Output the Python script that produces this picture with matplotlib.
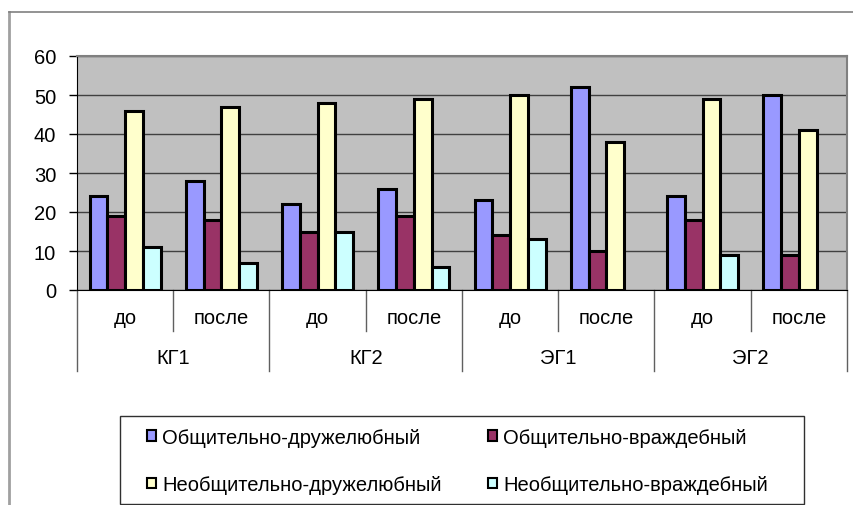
import numpy as np
import matplotlib.pyplot as plt
from matplotlib.lines import Line2D
from matplotlib.patches import Patch, Rectangle
import matplotlib.transforms as mtransforms

plt.rcParams['font.family'] = ['Liberation Sans', 'DejaVu Sans']

groups = ['КГ1', 'КГ2', 'ЭГ1', 'ЭГ2']
stages = ['до', 'после']
series = ['Общительно-дружелюбный', 'Общительно-враждебный',
          'Необщительно-дружелюбный', 'Необщительно-враждебный']
colors = ['#9999FF', '#993366', '#FFFFCC', '#CCFFFF']

# по порядку: КГ1 до, КГ1 после, КГ2 до, КГ2 после, ЭГ1 до, ЭГ1 после, ЭГ2 до, ЭГ2 после
friendly = [24, 28, 22, 26, 23, 52, 24, 50]
hostile = [19, 18, 15, 19, 14, 10, 18, 9]
unsoc_friendly = [46, 47, 48, 49, 50, 38, 49, 41]
unsoc_hostile = [11, 7, 15, 6, 13, np.nan, 9, np.nan]
values = [friendly, hostile, unsoc_friendly, unsoc_hostile]

fs = 14.5
W, H = 854, 506

fig = plt.figure(figsize=(8.54, 5.06), dpi=100)
ax = fig.add_axes([77/W, 1 - 291/H, 770/W, 234/H])
ax.set_facecolor('#C0C0C0')

x = np.arange(len(friendly))
w = 0.185
for i, (vals, c) in enumerate(zip(values, colors)):
    ax.bar(x + (i - 1.5) * w, vals, w, color=c, edgecolor='black', linewidth=2.2, zorder=3)

ax.set_xlim(-0.5, 7.5)
ax.set_ylim(0, 60)
ax.set_yticks(range(0, 61, 10))
ax.tick_params(axis='y', labelsize=fs, direction='out', length=6, width=1, pad=9)
ax.set_xticks([])
ax.yaxis.grid(True, color='#404040', linewidth=1)
ax.set_axisbelow(True)
for s in ['top', 'right']:
    ax.spines[s].set_color('#808080')
    ax.spines[s].set_linewidth(1.5)
ax.spines['left'].set_color('black')
ax.spines['bottom'].set_color('black')

# двухуровневая подпись оси X
trans = mtransforms.blended_transform_factory(ax.transData, ax.transAxes)
h = 234
for k in range(len(friendly) + 1):
    xs = k - 0.5
    low = -(372 - 291) / h if k % 2 == 0 else -(332 - 291) / h
    ax.plot([xs, xs], [0, low], transform=trans, color='#606060', linewidth=1, clip_on=False)
for k in range(len(friendly)):
    ax.text(k, -(318 - 291) / h, stages[k % 2], transform=trans, ha='center', va='center', fontsize=fs)
for g, name in enumerate(groups):
    ax.text(2 * g + 0.5, -(359 - 291) / h, name, transform=trans, ha='center', va='center', fontsize=fs)

# рамка диаграммы
fig.add_artist(Line2D([8.5/W, 8.5/W], [0, 1 - 13/H], transform=fig.transFigure, color='#A0A0A0', linewidth=2))
fig.add_artist(Line2D([8.5/W, 853/W], [1 - 13/H, 1 - 13/H], transform=fig.transFigure, color='#808080', linewidth=1.2))

# рамка легенды отдельно, чтобы отступы были как в Excel
fig.add_artist(Rectangle((120/W, 1 - 505/H), 684/W, 88/H, transform=fig.transFigure,
                         facecolor='white', edgecolor='#303030', linewidth=1, zorder=1))

# легенда заполняется по столбцам, поэтому порядок 0, 2, 1, 3 даёт строки как в оригинале
order = [0, 2, 1, 3]
handles = [Patch(facecolor=colors[i], edgecolor='black', linewidth=1.5) for i in order]
labels = [series[i] for i in order]
leg = fig.legend(handles, labels, ncol=2, loc='upper left',
                 bbox_to_anchor=(147/W, 1 - 429/H),
                 fontsize=fs, frameon=False,
                 handlelength=0.45, handleheight=0.45, handletextpad=0.3,
                 labelspacing=1.4, borderpad=0, borderaxespad=0, columnspacing=2.3)
leg.set_zorder(2)

fig.savefig('out.png', dpi=100)
